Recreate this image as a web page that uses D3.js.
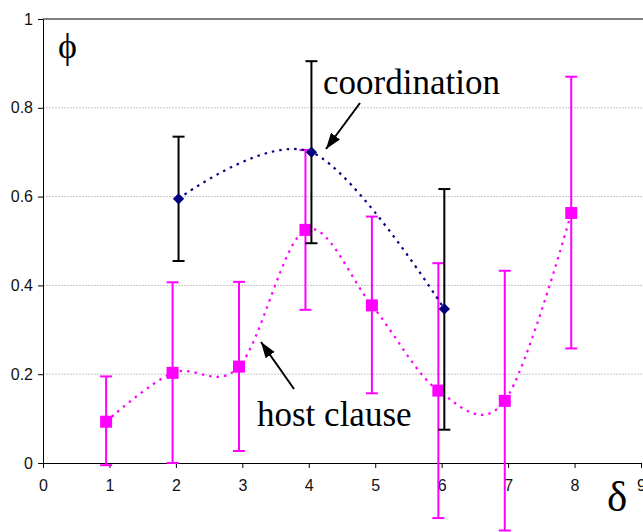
<!DOCTYPE html>
<html>
<head>
<meta charset="utf-8">
<script src="https://cdn.jsdelivr.net/npm/d3@7"></script>
<style>
  body { margin: 0; background: #fff; }
  .lbl { font-family: "Liberation Serif", "Times New Roman", serif; fill: #000; }
</style>
</head>
<body>
<div id="chart"></div>
<script>
// data
let coordX = [2, 4, 6]
let coordY = [0.595, 0.700, 0.347]
let coordHi = [0.735, 0.905, 0.617]
let coordLo = [0.455, 0.495, 0.075]

let hostX = [1, 2, 3, 4, 5, 6, 7, 8]
let hostY = [0.093, 0.203, 0.217, 0.525, 0.355, 0.163, 0.140, 0.563]
let hostHi = [0.195, 0.407, 0.408, 0.705, 0.555, 0.450, 0.433, 0.870]
let hostLo = [-0.005, 0.000, 0.027, 0.345, 0.157, -0.124, -0.152, 0.258]

let xTicks = [0, 1, 2, 3, 4, 5, 6, 7, 8, 9]
let yTicks = [0, 0.2, 0.4, 0.6, 0.8, 1]

let width = 643
let height = 532

let svg = d3.select("#chart")
    .append("svg")
    .attr("width", width)
    .attr("height", height)

let x = d3.scaleLinear()
    .domain([0, 9])
    .range([43, 641])

let y = d3.scaleLinear()
    .domain([0, 1])
    .range([463, 19])

// gridlines
svg.append("g")
    .selectAll("line")
    .data(yTicks.filter(d => d > 0 && d < 1))
    .enter()
    .append("line")
    .attr("x1", x(0))
    .attr("x2", width)
    .attr("y1", d => y(d))
    .attr("y2", d => y(d))
    .attr("stroke", "#c8c8c8")
    .attr("stroke-width", 1)
    .attr("stroke-dasharray", "2,1")

// top border
svg.append("line")
    .attr("x1", x(0))
    .attr("x2", width)
    .attr("y1", y(1))
    .attr("y2", y(1))
    .attr("stroke", "#808080")
    .attr("stroke-width", 2)

let xAxis = d3.axisBottom(x)
    .tickValues(xTicks)
    .tickFormat(d3.format("d"))
    .tickSize(5)
    .tickSizeOuter(0)

let yAxis = d3.axisLeft(y)
    .tickValues(yTicks)
    .tickFormat(d => d === 0 || d === 1 ? d : d3.format(".1f")(d))
    .tickSize(5)
    .tickSizeOuter(0)

svg.append("g")
    .attr("class", "x axis")
    .attr("transform", "translate(0," + y(0) + ")")
    .call(xAxis)
    .call(g => g.selectAll("text").attr("dy", "1.25em"))

svg.append("g")
    .attr("class", "y axis")
    .attr("transform", "translate(" + x(0) + ",0)")
    .call(yAxis)
    .call(g => g.selectAll("text").attr("x", -10))

svg.selectAll(".axis")
    .attr("font-family", "'Liberation Sans', Arial, sans-serif")
    .attr("font-size", 16)
svg.selectAll(".axis text").attr("fill", "#111")
svg.selectAll(".axis .domain, .axis .tick line").attr("stroke", "#000")

function drawSeries(xs, ys, his, los, dx, color, barColor, capW, diamond, size) {
    let data = xs.map((d, i) => ({ x: d, y: ys[i], hi: his[i], lo: los[i] }))
    let line = d3.line()
        .x(d => x(d.x + dx))
        .y(d => y(d.y))
        .curve(d3.curveCardinal.tension(0))

    svg.append("path")
        .datum(data)
        .attr("d", line)
        .attr("fill", "none")
        .attr("stroke", color)
        .attr("stroke-width", 2.2)
        .attr("stroke-dasharray", "2.5,5")

    let bars = svg.append("g")
        .attr("stroke", barColor)
        .attr("stroke-width", 2)
    bars.selectAll(".v")
        .data(data)
        .enter()
        .append("line")
        .attr("x1", d => x(d.x + dx))
        .attr("x2", d => x(d.x + dx))
        .attr("y1", d => y(d.hi))
        .attr("y2", d => y(d.lo))
    bars.selectAll(".hi")
        .data(data)
        .enter()
        .append("line")
        .attr("x1", d => x(d.x + dx) - capW / 2)
        .attr("x2", d => x(d.x + dx) + capW / 2)
        .attr("y1", d => y(d.hi))
        .attr("y2", d => y(d.hi))
    bars.selectAll(".lo")
        .data(data)
        .enter()
        .append("line")
        .attr("x1", d => x(d.x + dx) - capW / 2)
        .attr("x2", d => x(d.x + dx) + capW / 2)
        .attr("y1", d => y(d.lo))
        .attr("y2", d => y(d.lo))

    svg.append("g")
        .selectAll("path")
        .data(data)
        .enter()
        .append("path")
        .attr("d", d3.symbol().type(d3.symbolSquare).size(size))
        .attr("transform", d => "translate(" + x(d.x + dx) + "," + y(d.y) + ")" + (diamond ? " rotate(45)" : ""))
        .attr("fill", color)
}

drawSeries(hostX, hostY, hostHi, hostLo, -0.05, "#ff00ff", "#ff00ff", 12, false, 144)
drawSeries(coordX, coordY, coordHi, coordLo, 0.04, "#000080", "#000", 12, true, 64)

// labels
svg.append("text").attr("class", "lbl")
    .attr("x", 58).attr("y", 58)
    .style("font-size", "36px")
    .text("ϕ")

svg.append("text").attr("class", "lbl")
    .attr("x", 607).attr("y", 511)
    .style("font-size", "43px")
    .text("δ")

svg.append("text").attr("class", "lbl")
    .attr("x", 323).attr("y", 94)
    .style("font-size", "35px")
    .text("coordination")

svg.append("text").attr("class", "lbl")
    .attr("x", 257).attr("y", 426)
    .style("font-size", "35px")
    .text("host clause")

// arrows
svg.append("defs")
    .append("marker")
    .attr("id", "head")
    .attr("viewBox", "0 0 10 10")
    .attr("refX", 10).attr("refY", 5)
    .attr("markerWidth", 16).attr("markerHeight", 16)
    .attr("markerUnits", "userSpaceOnUse")
    .attr("orient", "auto")
    .append("path")
    .attr("d", "M0,1.5 L10,5 L0,8.5 Z")
    .attr("fill", "#000")

function arrow(x1, y1, x2, y2) {
    svg.append("line")
        .attr("x1", x1).attr("y1", y1)
        .attr("x2", x2).attr("y2", y2)
        .attr("stroke", "#000")
        .attr("stroke-width", 2)
        .attr("marker-end", "url(#head)")
}

arrow(360, 103, 326, 149)
arrow(294, 389, 261, 342)
</script>
</body>
</html>
